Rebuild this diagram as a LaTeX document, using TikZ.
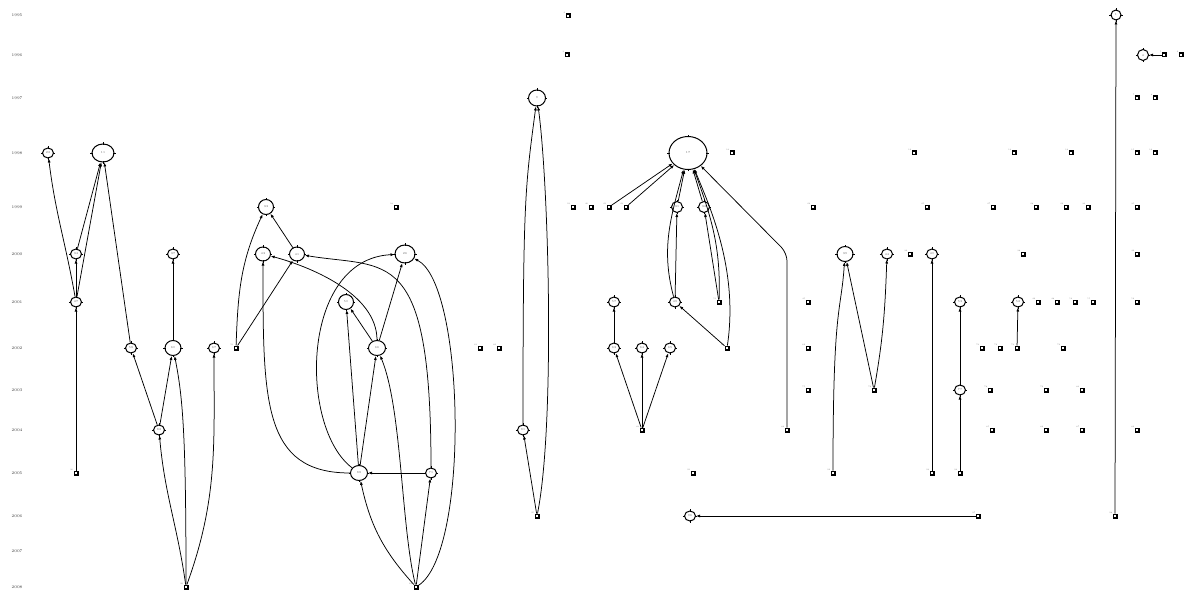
\documentclass[tikz,border=0pt]{standalone}
\usepackage{tikz}
\usetikzlibrary{arrows.meta,shapes.geometric}

\tikzset{
  yr/.style={font=\fontsize{4}{4}\selectfont,text=black!75},
  tick/.style={line width=0.6pt},
  paper/.style={ellipse,draw,line width=1pt,inner sep=0pt,fill=white,
    font=\fontsize{3}{3}\selectfont,text=black!60,
    append after command={
      (\tikzlastnode.north) ++(0,-1.2) edge[tick] ++(0,2.4)
      (\tikzlastnode.south) ++(0,-1.2) edge[tick] ++(0,2.4)
      (\tikzlastnode.east) ++(-1.2,0) edge[tick] ++(2.4,0)
      (\tikzlastnode.west) ++(-1.2,0) edge[tick] ++(2.4,0)}},
  orphan/.style={rectangle,draw,line width=1.2pt,fill=white,inner sep=0pt,minimum size=3.8pt},
  sqlbl/.style={font=\fontsize{2}{2}\selectfont,text=black!55,inner sep=0.2pt},
  cite/.style={-{Latex[length=4pt,width=3pt]},line width=0.75pt}
}

\begin{document}
\begin{tikzpicture}[x=1pt,y=1pt]
\path[use as bounding box,fill=white] (0,0) rectangle (1190,590);

% years
\foreach \yr/\y in {1995/575,1996/535,1997/492,1998/437,1999/383,2000/336,2001/288,
    2002/242,2003/200,2004/160,2005/117,2006/74,2007/39,2008/3} {
    \node[yr] (y\yr) at (17,\y) {\yr};
}

% cited papers
\foreach \n/\x/\y/\w/\h in {1/1116/575/10/10,4/1143/535/11/11,9/537/492/17/16,
    22/48/437/11/10,11/103/437/22/18,17/688/437/38/33,
    33/266/383/15/15,31/677/383/11/11,32/704/383/11/11,
    34/76/336/11/10,37/173/336/11/10,43/263/336/15/14,41/297/336/15/14,
    26/405/336/20/18,39/845/336/16/15,44/887/336/11/10,40/932/336/11/10,
    47/76/288/11/10,50/346/288/15/15,57/614/288/11/10,49/675/288/11/10,
    53/960/288/11/10,52/1018/288/11/10,
    58/131/242/11/10,60/173/242/16/15,67/214/242/11/10,66/377/242/17/15,
    63/614/242/11/10,64/642/242/11/10,65/670/242/11/10,
    77/960/200/11/10,82/159/160/11/10,81/523/160/11/10,
    88/359/117/17/15,71/431/117/11/10,96/690/74/11/10} {
    \node[paper,minimum width=\w pt,minimum height=\h pt] (p\n) at (\x,\y) {\n};
}

% papers with no citation
\foreach \n/\x/\y in {2/568/574,3/567/535,5/1164/535,6/1181/535,7/1137/492,8/1155/492,
    10/732/437,12/914/437,13/1014/437,14/1071/437,15/1137/437,16/1155/437,
    18/396/383,19/573/383,20/591/383,21/609/383,23/626/383,24/813/383,25/927/383,
    27/993/383,28/1036/383,29/1066/383,30/1088/383,35/1137/383,
    36/910/336,38/1023/336,42/1137/336,
    51/719/288,45/808/288,46/1038/288,48/1057/288,54/1075/288,55/1093/288,56/1137/288,
    59/236/242,61/480/242,62/499/242,68/727/242,69/808/242,70/982/242,72/1000/242,
    73/1017/242,74/1063/242,
    75/808/200,76/874/200,78/990/200,79/1046/200,80/1082/200,
    83/642/160,84/787/160,85/992/160,86/1046/160,87/1082/160,89/1137/160,
    90/76/117,91/693/117,92/833/117,93/932/117,94/960/117,
    95/537/74,97/978/74,98/1115/74,99/186/3,100/416/3} {
    \node[orphan,label={[sqlbl]north west:\n}] (q\n) at (\x,\y) {};
}

% straight citations
\foreach \a/\b in {q90/p47,p47/p34,p34/p11,p47/p11,p58/p11,p60/p37,p82/p58,p82/p60,
    q59/p41,p41/p33,p88/p50,p66/p50,p88/p66,p66/p26,p71/p88,q100/p71,
    q95/p81,q21/p17,q23/p17,p49/p31,p31/p17,p32/p17,q51/p32,q68/p49,
    q83/p63,q83/p64,q83/p65,p63/p57,q97/p96,
    q76/p39,q93/p40,q94/p77,p77/p53,q73/p52,q98/p1,q5/p4} {
    \draw[cite] (\a) -- (\b);
}

% bent citations
\draw[cite] (p47) to[out=100,in=-83] (p22);
\draw[cite] (q99) to[out=98,in=-85] (p82);
\draw[cite] (q99) .. controls +(0,150) and +(10,-50) .. (p60);
\draw[cite] (q99) to[out=70,in=-90] (p67);
\draw[cite] (q59) to[out=88,in=-115] (p33);
\draw[cite] (p88) .. controls +(-97,0) and +(0,-146) .. (p43);
\draw[cite] (p66) .. controls +(0,55) and +(45,-12) .. (p43);
\draw[cite] (p71) .. controls +(0,230) and +(90,-15) .. (p41);
\draw[cite] (p88) .. controls +(-60,45) and +(-105,-5) .. (p26);
\draw[cite] (q100) .. controls +(54,35) and +(60,-30) .. (p26);
\draw[cite] (q100) .. controls +(-15,60) and +(25,-60) .. (p66);
\draw[cite] (q100) to[bend left=15] (p88);
\draw[cite] (p81) .. controls +(0,230) and +(-12,-90) .. (p9);
\draw[cite] (q95) .. controls +(18,90) and +(12,-90) .. (p9);
\draw[cite] (p49) to[out=105,in=-105] (p17);
\draw[cite] (q51) to[out=88,in=-70] (p17);
\draw[cite] (q68) .. controls +(12,80) and +(20,-50) .. (p17);
\draw[cite,rounded corners=8pt] (q84) -- ++(0,177) -- (p17);
\draw[cite] (q92) .. controls +(0,170) and +(-4,-60) .. (p39);
\draw[cite] (q76) to[out=80,in=-92] (p44);
\end{tikzpicture}
\end{document}
